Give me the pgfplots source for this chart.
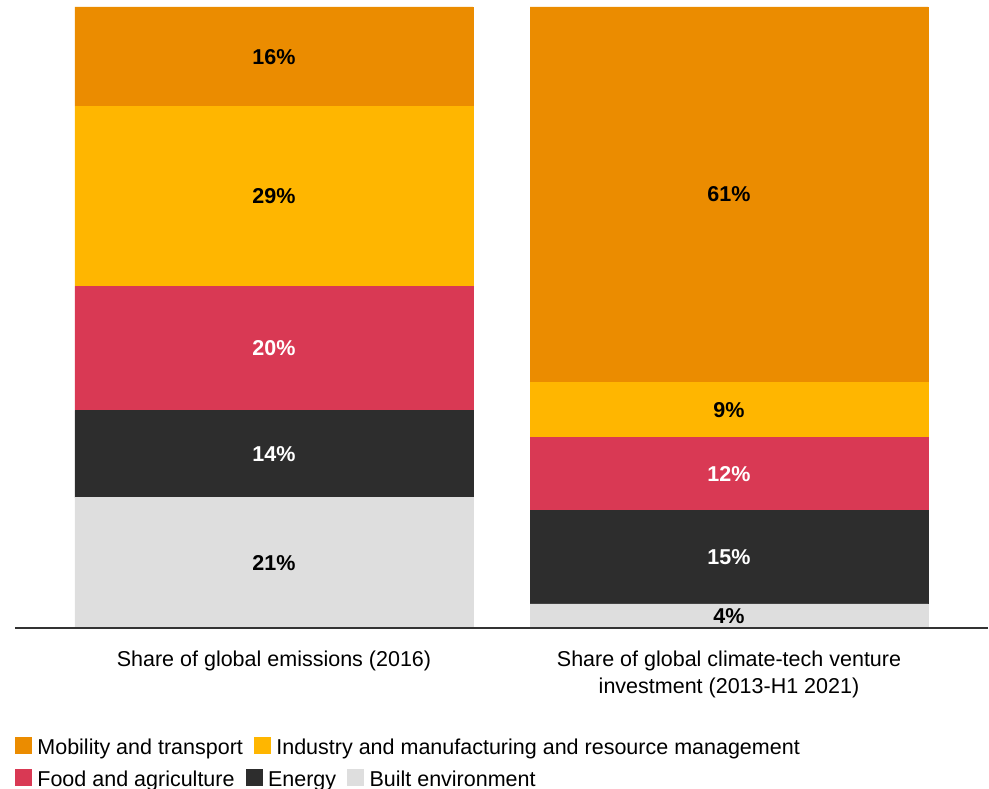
\documentclass[border=0pt]{standalone}
\usepackage{pgfplots}
\pgfplotsset{compat=1.18}
\usepackage{fontspec}
\setmainfont{Liberation Sans}
\definecolor{mob}{HTML}{EB8C00}
\definecolor{ind}{HTML}{FFB600}
\definecolor{food}{HTML}{D93954}
\definecolor{energy}{HTML}{2D2D2D}
\definecolor{built}{HTML}{DEDEDE}
\pgfplotsset{
  common/.style={scale only axis, width=973pt, height=621pt,
    xmin=-0.5692, xmax=1.5692, ymin=0, ymax=100,
    legend columns=-1,
    legend style={draw=none, fill=none, inner sep=0pt, outer sep=0pt,
      font=\fontsize{21.5}{26}\selectfont, nodes={inner sep=0pt},
      cells={anchor=west},
      /tikz/every odd column/.append style={column sep=6pt},
      /tikz/every even column/.append style={column sep=11pt}}},
}
\begin{document}
\begin{tikzpicture}[x=1pt,y=1pt]
\useasboundingbox (0,0) rectangle (989,789);
\begin{axis}[common, at={(15pt,161pt)}, anchor=south west,
  ybar stacked, bar width=398pt,
  axis x line=bottom, axis y line=none,
  axis line style={-, draw=black!80, line width=1.3pt},
  xtick={0,1},
  xticklabels={Share of global emissions (2016), {Share of global climate-tech venture\\investment (2013-H1 2021)}},
  major tick length=0pt,
  xticklabel style={align=center, font=\fontsize{21.5}{27}\selectfont, inner sep=0pt, anchor=north, yshift=-23pt},
  axis on top,
]
\addplot[fill=built, draw=built, line width=0.4pt] coordinates {(0,21) (1,3.9)};
\addplot[fill=energy, draw=energy, line width=0.4pt] coordinates {(0,14) (1,15.0)};
\addplot[fill=food, draw=food, line width=0.4pt] coordinates {(0,20) (1,11.8)};
\addplot[fill=ind, draw=ind, line width=0.4pt] coordinates {(0,29) (1,8.9)};
\addplot[fill=mob, draw=mob, line width=0.4pt] coordinates {(0,16) (1,60.4)};
\end{axis}
\begin{axis}[common, at={(15pt,161pt)}, anchor=south west, hide axis,
  legend style={at={(0,-0.1908)}, anchor=west},
]
\addlegendimage{legend image code/.code={\fill[mob] (0pt,-6pt) rectangle (16pt,10pt);}}
\addlegendentry{Mobility and transport}
\addlegendimage{legend image code/.code={\fill[ind] (0pt,-6pt) rectangle (16pt,10pt);}}
\addlegendentry{Industry and manufacturing and resource management}
\end{axis}
\begin{axis}[common, at={(15pt,161pt)}, anchor=south west, hide axis,
  legend style={at={(0,-0.2424)}, anchor=west},
  nodes near coords, point meta=explicit symbolic,
  nodes near coords align=center,
]
\addplot[draw=none, mark=none, forget plot, nodes near coords,
  every node near coord/.append style={font=\fontsize{21.5}{26}\selectfont\bfseries, text=black, anchor=center}]
  table[meta=label] {
x y label
0 10.5 21\%
0 69.5 29\%
0 92 16\%
1 1.95 4\%
1 35.15 9\%
1 69.8 61\%
};
\addplot[draw=none, mark=none, forget plot, nodes near coords,
  every node near coord/.append style={font=\fontsize{21.5}{26}\selectfont\bfseries, text=white, anchor=center}]
  table[meta=label] {
x y label
0 28 14\%
0 45 20\%
1 11.4 15\%
1 24.8 12\%
};
\addlegendimage{legend image code/.code={\fill[food] (0pt,-6pt) rectangle (16pt,10pt);}}
\addlegendentry{Food and agriculture}
\addlegendimage{legend image code/.code={\fill[energy] (0pt,-6pt) rectangle (16pt,10pt);}}
\addlegendentry{Energy}
\addlegendimage{legend image code/.code={\fill[built] (0pt,-6pt) rectangle (16pt,10pt);}}
\addlegendentry{Built environment}
\end{axis}
\end{tikzpicture}
\end{document}
